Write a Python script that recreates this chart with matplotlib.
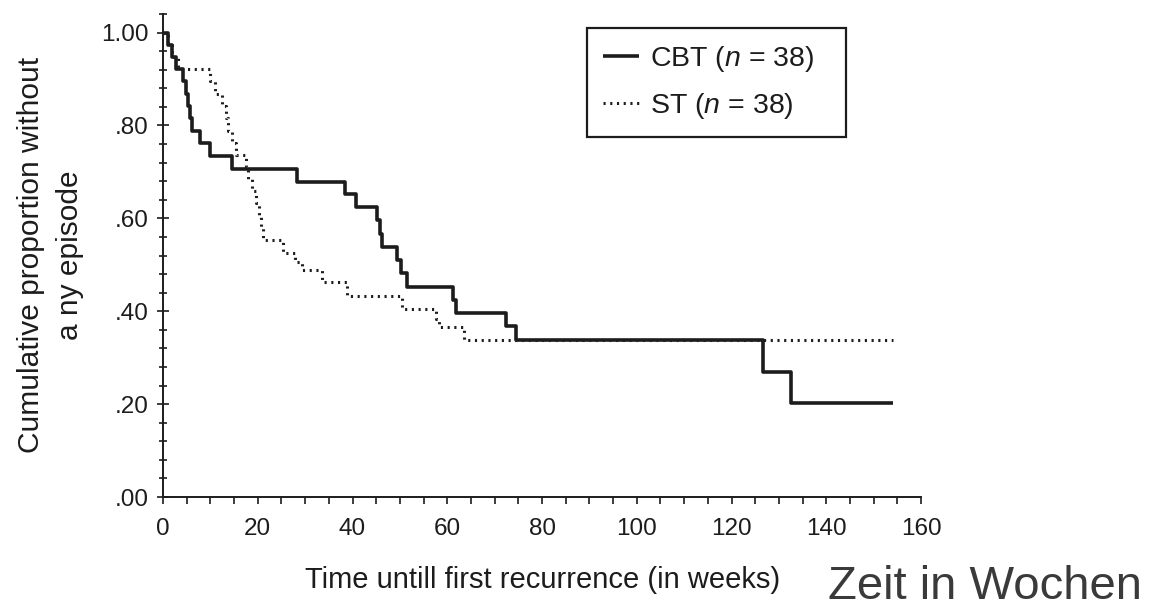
import matplotlib
matplotlib.use("Agg")
import matplotlib.pyplot as plt
from matplotlib.patches import Rectangle
from matplotlib.ticker import MultipleLocator, FixedLocator, FixedFormatter

font = ["Liberation Sans", "DejaVu Sans"]
plt.rcParams["font.family"] = font
plt.rcParams["mathtext.fontset"] = "custom"
plt.rcParams["mathtext.rm"] = "Liberation Sans"
plt.rcParams["mathtext.it"] = "Liberation Sans:italic"

# Kaplan-Meier steps (weeks, proportion after the step)
cbt_weeks = [0, 1.0, 1.9, 2.8, 4.3, 4.8, 5.3, 5.8, 6.2, 7.8, 10.0, 14.6, 28.3,
             38.4, 40.8, 45.2, 45.7, 46.3, 49.4, 50.2, 51.6, 61.2, 61.8,
             72.4, 74.6, 126.6, 132.5, 154]
cbt_prop = [1.0, 0.974, 0.947, 0.921, 0.895, 0.868, 0.842, 0.816, 0.789, 0.763,
            0.735, 0.707, 0.678, 0.652, 0.624, 0.596, 0.567, 0.539, 0.511,
            0.483, 0.453, 0.425, 0.397, 0.368, 0.337, 0.270, 0.203, 0.203]

st_weeks = [0, 1.0, 2.0, 3.2, 9.9, 11.0, 12.4, 13.4, 13.8, 14.6, 15.4, 17.6,
            18.0, 18.8, 19.6, 20.2, 20.7, 21.2, 25.3, 27.8, 29.4, 33.6, 38.8,
            50.4, 57.6, 58.3, 63.6, 154]
st_prop = [1.0, 0.974, 0.947, 0.921, 0.895, 0.868, 0.842, 0.816, 0.789, 0.763,
           0.737, 0.711, 0.684, 0.658, 0.632, 0.605, 0.579, 0.553, 0.526,
           0.505, 0.488, 0.463, 0.432, 0.405, 0.383, 0.366, 0.337, 0.337]

cbt_label = r"CBT ($\it{n}$ = 38)"
st_label = r"ST ($\it{n}$ = 38)"
y_ticks = [0.0, 0.2, 0.4, 0.6, 0.8, 1.0]
y_ticklabels = [".00", ".20", ".40", ".60", ".80", "1.00"]
x_ticks = [0, 20, 40, 60, 80, 100, 120, 140, 160]

ink = "#1c1c1c"
W, H = 1159, 614

fig = plt.figure(figsize=(W / 100, H / 100), dpi=100)
ax = fig.add_axes([163 / W, 1 - 497 / H, (921 - 163) / W, (497 - 14) / H])

ax.plot(cbt_weeks, cbt_prop, drawstyle="steps-post", color=ink, lw=2.6,
        solid_capstyle="butt", label=cbt_label)
ax.plot(st_weeks, st_prop, drawstyle="steps-post", color="#1e1e1e", lw=2.2,
        linestyle=(0, (0.7, 1.5)), label=st_label)

ax.set_xlim(0, 160)
ax.set_ylim(0, 1.04)
ax.spines["top"].set_visible(False)
ax.spines["right"].set_visible(False)
for s in ("left", "bottom"):
    ax.spines[s].set_linewidth(1.4)
    ax.spines[s].set_color(ink)

ax.yaxis.set_major_locator(FixedLocator(y_ticks))
ax.yaxis.set_major_formatter(FixedFormatter(y_ticklabels))
ax.yaxis.set_minor_locator(MultipleLocator(0.04))
ax.xaxis.set_major_locator(FixedLocator(x_ticks))
ax.xaxis.set_minor_locator(MultipleLocator(5))

ax.tick_params(axis="y", which="major", direction="inout", length=9, width=1.2,
               colors=ink, labelsize=17.5, pad=6)
ax.tick_params(axis="y", which="minor", direction="inout", length=6, width=1.2, colors=ink)
ax.tick_params(axis="x", which="both", direction="out", length=5, width=1.2,
               colors=ink, labelsize=17.5, pad=10)

# axis titles placed where the reference has them
fig.text(543 / W, 1 - 580 / H, "Time untill first recurrence (in weeks)",
         fontsize=21, color=ink, ha="center", va="center")
fig.text(51 / W, 1 - 255 / H, "Cumulative proportion without\na ny episode",
         fontsize=21.5, color=ink, rotation=90, ha="center", va="center",
         multialignment="center", linespacing=1.5)

# legend without its own frame, boxed by a plain rectangle
leg = ax.legend(loc="upper left", bbox_to_anchor=(603 / W, 1 - 44 / H),
                bbox_transform=fig.transFigure, borderaxespad=0, borderpad=0,
                fontsize=20.5, frameon=False, handlelength=1.25,
                handletextpad=0.4, labelspacing=0.6)
for t in leg.get_texts():
    t.set_color(ink)
fig.patches.append(Rectangle((587 / W, 1 - 137 / H), (846 - 587) / W, (137 - 28) / H,
                             transform=fig.transFigure, fill=False,
                             edgecolor=ink, linewidth=1.6))

fig.text(828 / W, 1 - 587 / H, "Zeit in Wochen", fontsize=34, color="#3a3a3a",
         ha="left", va="center")

fig.savefig("out.png", dpi=100)
